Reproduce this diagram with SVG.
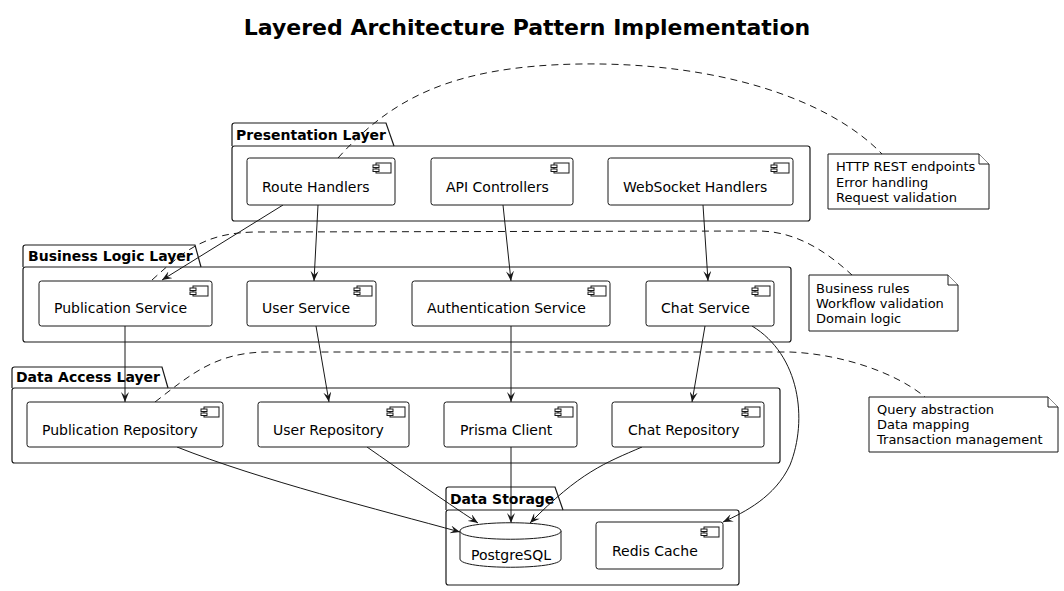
<svg xmlns="http://www.w3.org/2000/svg" xmlns:xlink="http://www.w3.org/1999/xlink" width="1064" height="591" viewBox="0 0 1064 591">
<style>
text{font-family:"DejaVu Sans","Liberation Sans",sans-serif;fill:#000}
.title{font-size:22px;font-weight:bold}
.pkgt{font-size:14px;font-weight:bold}
.lbl{font-size:14px}
.note{font-size:13px}
.box{fill:#fff;stroke:#181818;stroke-width:1}
.pkg{fill:none;stroke:#181818;stroke-width:1.2}
.edge{fill:none;stroke:#181818;stroke-width:1;marker-end:url(#arr)}
.dash{fill:none;stroke:#181818;stroke-width:1;stroke-dasharray:7,5}
</style>
<defs>
<marker id="arr" viewBox="0 0 10 8" refX="10" refY="4" markerWidth="10" markerHeight="8" markerUnits="userSpaceOnUse" orient="auto">
<path d="M0,0 L10,4 L0,8 L4,4 Z" fill="#181818"/>
</marker>
<g id="icon">
<rect x="-19" y="5" width="15" height="10" fill="#fff" stroke="#181818" stroke-width="1"/>
<rect x="-22" y="7" width="6" height="2.5" fill="#fff" stroke="#181818" stroke-width="1"/>
<rect x="-22" y="11" width="6" height="2.5" fill="#fff" stroke="#181818" stroke-width="1"/>
</g>
</defs>
<rect width="1064" height="591" fill="#fff"/>
<text class="title" x="527" y="35" text-anchor="middle">Layered Architecture Pattern Implementation</text>

<g id="pkg-presentation">
<path class="pkg" d="M232,146 L232,125.5 Q232,123 234.5,123 L386,123 L394,146"/>
<rect class="pkg" x="232" y="146" width="578" height="75" rx="2.5"/>
<text class="pkgt" x="236" y="140">Presentation Layer</text>
</g>
<g id="pkg-business">
<path class="pkg" d="M23,267 L23,247.5 Q23,245 25.5,245 L195,245 L201,267"/>
<rect class="pkg" x="23" y="267" width="768" height="75" rx="2.5"/>
<text class="pkgt" x="28" y="261">Business Logic Layer</text>
</g>
<g id="pkg-dataaccess">
<path class="pkg" d="M12,388 L12,369.5 Q12,367 14.5,367 L162,367 L168,388"/>
<rect class="pkg" x="12" y="388" width="768" height="75" rx="2.5"/>
<text class="pkgt" x="16" y="382">Data Access Layer</text>
</g>
<g id="pkg-storage">
<path class="pkg" d="M446,510 L446,489.5 Q446,487 448.5,487 L555,487 L563,510"/>
<rect class="pkg" x="446" y="510" width="293" height="75" rx="2.5"/>
<text class="pkgt" x="450" y="504">Data Storage</text>
</g>

<g id="connectors">
<path class="edge" d="M283,205 L162,280"/>
<path class="edge" d="M318,205 L314,281"/>
<path class="edge" d="M503,205 L511,281"/>
<path class="edge" d="M703,205 L708,281"/>
<path class="edge" d="M125,326 L125,402"/>
<path class="edge" d="M316,326 L329,402"/>
<path class="edge" d="M511,326 L511,402"/>
<path class="edge" d="M705,326 L692,402"/>
<path class="edge" d="M752,326 C800,355 808,420 790,465 C775,497 745,512 723,522"/>
<path class="edge" d="M177,447 C260,480 380,510 460,532"/>
<path class="edge" d="M367,447 C400,470 440,498 478,523"/>
<path class="edge" d="M511,447 L511,523"/>
<path class="edge" d="M642,447 C605,463 580,472 530,523"/>
<path class="dash" d="M338,158 C390,100 450,66 580,64 C720,62 830,100 882,154"/>
<path class="dash" d="M152,280 C185,250 205,233 255,232 L760,231 C800,232 830,255 852,275"/>
<path class="dash" d="M155,402 C190,375 215,353 265,352 L790,352 C840,354 895,372 925,397"/>
</g>

<g id="route-handlers"><rect class="box" x="247" y="158" width="148" height="47" rx="2.5"/><use xlink:href="#icon" x="395" y="158"/><text class="lbl" x="262" y="192">Route Handlers</text></g>
<g id="api-controllers"><rect class="box" x="431" y="158" width="142" height="47" rx="2.5"/><use xlink:href="#icon" x="573" y="158"/><text class="lbl" x="446" y="192">API Controllers</text></g>
<g id="websocket-handlers"><rect class="box" x="608" y="158" width="185" height="47" rx="2.5"/><use xlink:href="#icon" x="793" y="158"/><text class="lbl" x="623" y="192">WebSocket Handlers</text></g>

<g id="publication-service"><rect class="box" x="39" y="281" width="173" height="45" rx="2.5"/><use xlink:href="#icon" x="212" y="281"/><text class="lbl" x="54" y="313">Publication Service</text></g>
<g id="user-service"><rect class="box" x="247" y="281" width="129" height="45" rx="2.5"/><use xlink:href="#icon" x="376" y="281"/><text class="lbl" x="262" y="313">User Service</text></g>
<g id="authentication-service"><rect class="box" x="412" y="281" width="198" height="45" rx="2.5"/><use xlink:href="#icon" x="610" y="281"/><text class="lbl" x="427" y="313">Authentication Service</text></g>
<g id="chat-service"><rect class="box" x="646" y="281" width="128" height="45" rx="2.5"/><use xlink:href="#icon" x="774" y="281"/><text class="lbl" x="661" y="313">Chat Service</text></g>

<g id="publication-repository"><rect class="box" x="27" y="402" width="196" height="45" rx="2.5"/><use xlink:href="#icon" x="223" y="402"/><text class="lbl" x="42" y="435">Publication Repository</text></g>
<g id="user-repository"><rect class="box" x="258" y="402" width="151" height="45" rx="2.5"/><use xlink:href="#icon" x="409" y="402"/><text class="lbl" x="273" y="435">User Repository</text></g>
<g id="prisma-client"><rect class="box" x="444" y="402" width="133" height="45" rx="2.5"/><use xlink:href="#icon" x="577" y="402"/><text class="lbl" x="460" y="435">Prisma Client</text></g>
<g id="chat-repository"><rect class="box" x="612" y="402" width="152" height="45" rx="2.5"/><use xlink:href="#icon" x="764" y="402"/><text class="lbl" x="628" y="435">Chat Repository</text></g>

<g id="postgresql">
<path class="box" d="M460,531 C460,520 561,520 561,531 L561,559 C561,570 460,570 460,559 Z"/>
<path class="box" fill="none" d="M460,531 C460,542 561,542 561,531"/>
<text class="lbl" x="511" y="560" text-anchor="middle">PostgreSQL</text>
</g>
<g id="redis-cache"><rect class="box" x="596" y="522" width="127" height="47" rx="2.5"/><use xlink:href="#icon" x="723" y="522"/><text class="lbl" x="612" y="556">Redis Cache</text></g>

<g id="note-presentation">
<path class="box" d="M828,154 L979,154 L989,164 L989,209 L828,209 Z"/>
<path class="box" fill="none" d="M979,154 L979,164 L989,164"/>
<text class="note" x="836" y="171">HTTP REST endpoints</text>
<text class="note" x="836" y="187">Error handling</text>
<text class="note" x="836" y="202">Request validation</text>
</g>
<g id="note-business">
<path class="box" d="M809,275 L948,275 L958,285 L958,331 L809,331 Z"/>
<path class="box" fill="none" d="M948,275 L948,285 L958,285"/>
<text class="note" x="816" y="293">Business rules</text>
<text class="note" x="816" y="308">Workflow validation</text>
<text class="note" x="816" y="323">Domain logic</text>
</g>
<g id="note-dataaccess">
<path class="box" d="M869,397 L1048,397 L1058,407 L1058,452 L869,452 Z"/>
<path class="box" fill="none" d="M1048,397 L1048,407 L1058,407"/>
<text class="note" x="877" y="414">Query abstraction</text>
<text class="note" x="877" y="429">Data mapping</text>
<text class="note" x="877" y="444">Transaction management</text>
</g>
</svg>
